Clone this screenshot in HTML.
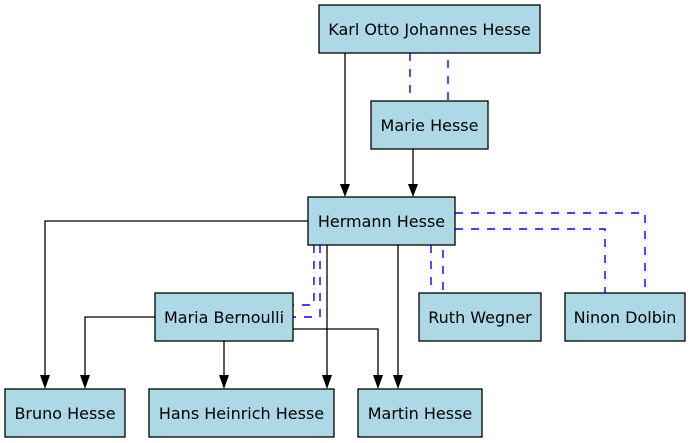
<!DOCTYPE html>
<html><head><meta charset="utf-8"><style>
html,body{margin:0;padding:0;background:#fff;}
svg{display:block;}
text{font-family:"DejaVu Sans","Liberation Sans",sans-serif;font-size:16px;fill:#000;}
</style></head><body>
<svg width="691" height="443" viewBox="0 0 691 443" xmlns="http://www.w3.org/2000/svg">
<g fill="none" stroke="#0000ff" stroke-width="1.4" stroke-dasharray="8,8">
<line x1="410" y1="53" x2="410" y2="101"/>
<line x1="448" y1="60" x2="448" y2="101"/>
<polyline points="455,213 645,213 645,293"/>
<polyline points="455,229 605,229 605,293"/>
<line x1="431" y1="245" x2="431" y2="293"/>
<line x1="443" y1="250" x2="443" y2="293"/>
<polyline points="314,245 314,305 293,305"/>
<polyline points="320,245 320,317 293,317"/>
</g>
<g fill="none" stroke="#000" stroke-width="1.3">
<line x1="345" y1="53" x2="345" y2="185"/>
<line x1="413" y1="149" x2="413" y2="185"/>
<polyline points="308,221 45,221 45,376"/>
<line x1="327" y1="245" x2="327" y2="376"/>
<line x1="398" y1="245" x2="398" y2="376"/>
<polyline points="155,317 85,317 85,376"/>
<line x1="224" y1="341" x2="224" y2="376"/>
<polyline points="293,329 378,329 378,376"/>
</g>
<g fill="#000">
<path d="M340,184 L350,184 L345,197 Z"/>
<path d="M408,184 L418,184 L413,197 Z"/>
<path d="M40,375 L50,375 L45,389 Z"/>
<path d="M80,375 L90,375 L85,389 Z"/>
<path d="M219,375 L229,375 L224,389 Z"/>
<path d="M322,375 L332,375 L327,389 Z"/>
<path d="M373,375 L383,375 L378,389 Z"/>
<path d="M393,375 L403,375 L398,389 Z"/>
</g>
<g fill="#add8e6" stroke="#000" stroke-width="1.3">
<rect x="319" y="5" width="221" height="48"/>
<rect x="371" y="101" width="117" height="48"/>
<rect x="308" y="197" width="147" height="48"/>
<rect x="155" y="293" width="138" height="48"/>
<rect x="419" y="293" width="122" height="48"/>
<rect x="565" y="293" width="120" height="48"/>
<rect x="5" y="389" width="120" height="48"/>
<rect x="149" y="389" width="185" height="48"/>
<rect x="358" y="389" width="124" height="48"/>
</g>
<g text-anchor="middle">
<text x="429.5" y="35">Karl Otto Johannes Hesse</text>
<text x="429.5" y="131">Marie Hesse</text>
<text x="381.5" y="227">Hermann Hesse</text>
<text x="224" y="323">Maria Bernoulli</text>
<text x="480" y="323">Ruth Wegner</text>
<text x="625" y="323">Ninon Dolbin</text>
<text x="65" y="419">Bruno Hesse</text>
<text x="241.5" y="419">Hans Heinrich Hesse</text>
<text x="420" y="419">Martin Hesse</text>
</g>
</svg>
</body></html>
